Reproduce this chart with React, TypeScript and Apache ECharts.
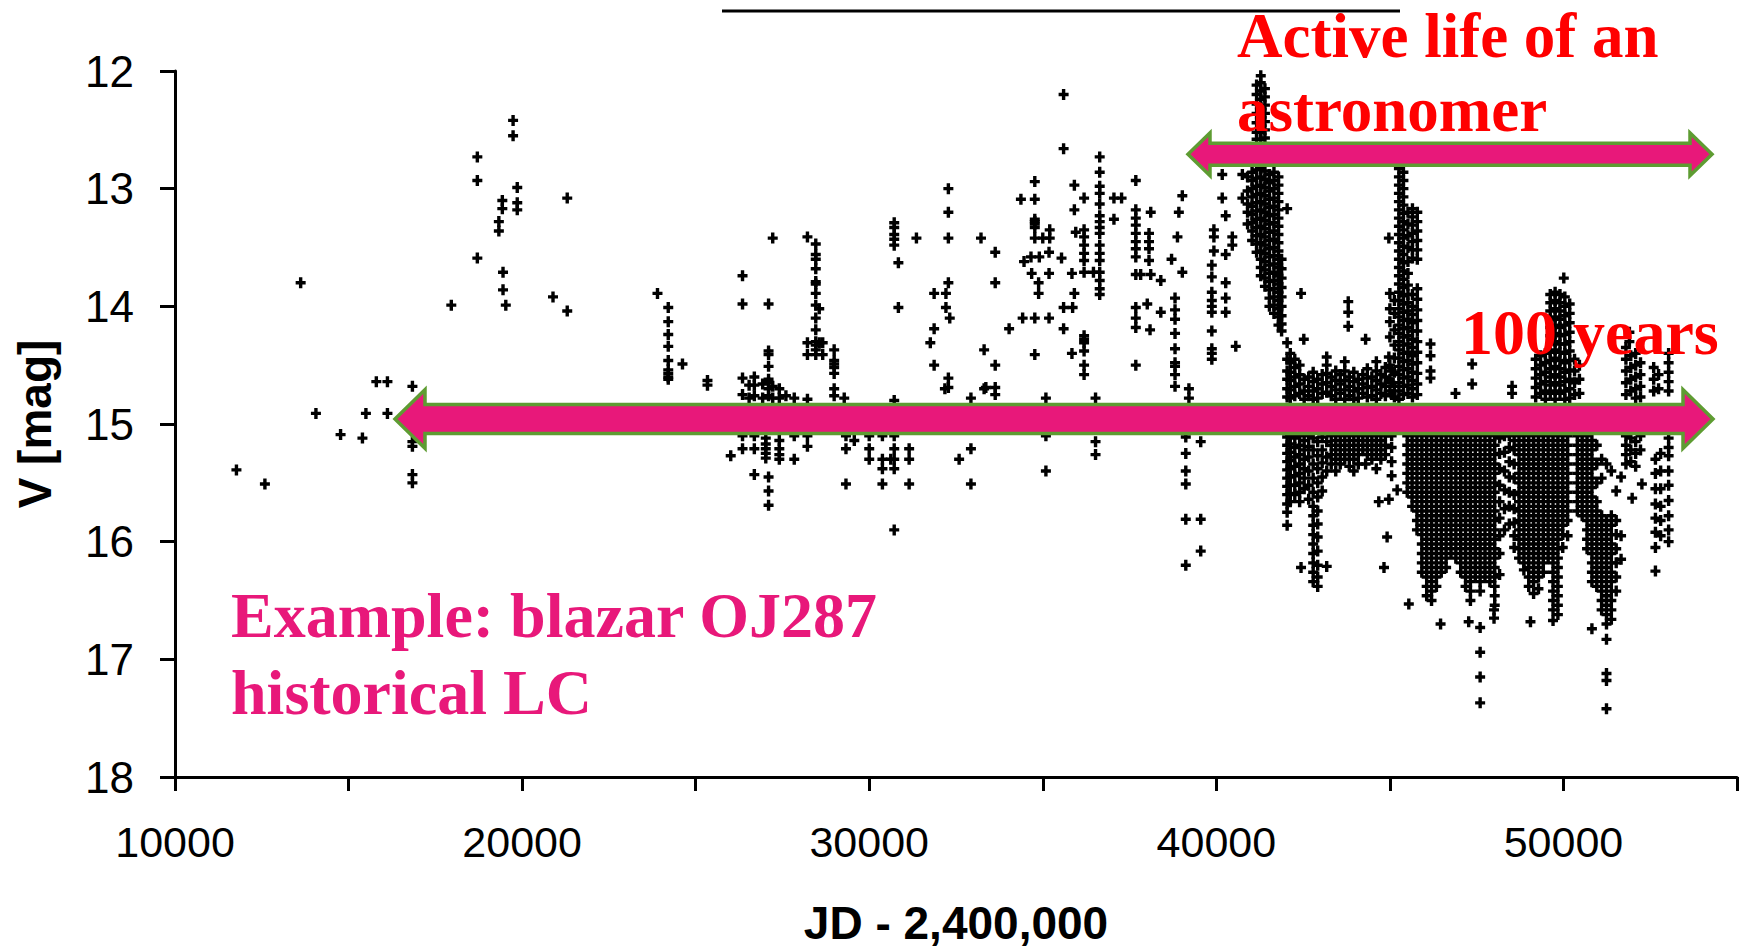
import React, { useEffect, useRef } from "react";
import * as echarts from "echarts";

const earlyRuns: number[][] = [
  [11770, 15.39], [12590, 15.51], [13620, 13.8], [14060, 14.91], [14770, 15.09],
  [15400, 15.12], [15500, 14.91], [15800, 14.64], [16120, 14.64, 14.91],
  [16840, 14.68, 15.15, 15.19, 15.43, 15.5], [17960, 13.99], [18710, 12.73, 12.93, 13.59],
  [19330, 13.28, 13.36], [19430, 13.1, 13.17], [19450, 13.71, 13.86], [19530, 13.99],
  [19740, 12.42, 12.55], [19860, 12.99, 13.12, 13.18], [20890, 13.92], [21300, 13.08, 14.04],
  [23900, 13.89], [24210, 14.01, 14.13, 14.24, 14.34, 14.46, 14.54, 14.57, 14.6, 14.62],
  [24620, 14.49], [25340, 14.63, 14.67], [26010, 15.27],
];

const midRuns: number[][] = [
  [26350, 13.74, 13.98, 14.61, 14.75, 15.1, 15.21], [26540, 14.67, 14.78],
  [26690, 14.6, 14.67, 14.76, 15.1, 15.21, 15.43], [26930, 14.66, 14.78],
  [27020, 15.12, 15.17, 15.21, 15.25, 15.29],
  [27100, 13.98, 14.38, 14.41, 14.51, 14.62, 14.65, 14.7, 14.76, 15.45, 15.57, 15.69],
  [27220, 13.42, 14.68, 14.78], [27410, 14.7, 14.78, 15.14, 15.21, 15.26, 15.3],
  [27600, 14.76], [27840, 14.78, 15.1, 15.3], [28220, 13.41, 14.31, 14.41, 14.79, 15.1, 15.19],
  [28460, 13.47, 13.56, 13.6, 13.68, 13.79, 13.81, 13.89, 13.99, 14.1, 14.2, 14.3, 14.33, 14.37, 14.41],
  [28560, 14.02, 14.31], [28660, 14.31, 14.41], [28990, 14.37, 14.46, 14.49, 14.52, 14.57, 14.7, 14.76],
  [29280, 14.78], [29330, 15.1, 15.21, 15.51], [29570, 15.14], [30000, 15.1, 15.21, 15.3],
  [30380, 15.1, 15.3, 15.38, 15.51], [30620, 15.3],
  [30720, 13.29, 13.33, 13.39, 13.43, 13.48, 14.8, 15.1, 15.21, 15.3, 15.38, 15.9],
  [30840, 13.63, 14.01], [31150, 15.21, 15.3, 15.51], [31360, 13.42], [31760, 14.31],
  [31870, 13.89, 14.19, 14.5], [32180, 14.7], [32210, 13.89, 14.01],
  [32280, 13.0, 13.2, 13.42, 13.8, 14.61, 14.69], [32320, 14.1], [32590, 15.3],
  [32930, 14.78, 15.21, 15.51], [33220, 13.42], [33310, 14.37, 14.7], [33360, 14.69],
  [33630, 13.54, 13.8, 14.5, 14.69, 14.75], [34030, 14.19], [34370, 13.09], [34420, 14.1],
  [34460, 13.62], [34660, 13.58], [34680, 13.72],
  [34770, 12.94, 13.09, 13.26, 13.28, 13.3, 13.33, 13.42, 14.1, 14.41], [34880, 13.8, 13.89],
  [34900, 13.58], [35000, 13.42], [35090, 14.78, 15.1, 15.4], [35180, 13.54, 13.72, 14.1],
  [35200, 13.35, 13.42], [35540, 13.59], [35600, 12.2, 12.66, 14.01, 14.19], [35840, 13.72, 14.4],
  [35860, 14.01], [35910, 12.97, 13.18, 13.89], [35950, 13.37],
];

const fiftiesRuns: number[][] = [
  [36190, 13.08, 13.35, 13.41, 13.48, 13.55, 13.61, 13.71, 14.25, 14.28, 14.31, 14.38, 14.5, 14.58],
  [36460, 13.71], [36520, 14.78, 15.15, 15.26],
  [36640, 12.73, 12.86, 12.98, 13.04, 13.13, 13.23, 13.28, 13.33, 13.38, 13.48, 13.55, 13.61, 13.71, 13.78, 13.85, 13.9],
  [37050, 13.08, 13.26], [37270, 13.08],
  [37680, 12.93, 13.18, 13.25, 13.31, 13.38, 13.45, 13.51, 13.58, 13.73, 14.01, 14.1, 14.18, 14.5],
  [37820, 13.73], [38010, 13.98], [38060, 13.38, 13.45, 13.51, 13.61], [38090, 14.2],
  [38110, 13.2, 13.73], [38400, 13.78, 14.05], [38710, 13.6],
  [38810, 13.93, 14.03, 14.11, 14.23, 14.36, 14.48, 14.51, 14.58, 14.68],
  [38880, 13.41], [38920, 13.2], [39020, 13.06, 13.71], [39120, 15.11, 15.25, 15.4, 15.51, 15.81, 16.2],
  [39210, 14.7, 14.78], [39550, 15.15, 15.81, 16.08],
  [39870, 13.65, 13.75, 13.88, 13.95, 14.0, 14.05, 14.21, 14.36, 14.4, 14.45],
  [39930, 13.35, 13.41, 13.53], [40170, 12.88, 13.08], [40270, 13.23, 13.56, 13.8, 13.93, 14.05],
  [40460, 13.41, 13.48], [40560, 14.34], [40750, 12.88, 13.08],
];

const outburstRuns: number[][] = [
  [40900, 12.9, 13.02, 13.13, 13.2, 13.3],
  [41030, 12.86, 12.93, 13.0, 13.07, 13.15, 13.22, 13.29, 13.36, 13.44],
  [41160, 12.12, 12.2, 12.28, 12.36, 12.44, 12.52, 12.58, 12.84, 12.91, 12.98, 13.05, 13.12, 13.19, 13.26, 13.33, 13.4, 13.47, 13.54],
  [41280, 12.04, 12.1, 12.17, 12.24, 12.31, 12.38, 12.45, 12.52, 12.58, 12.83, 12.9, 12.97, 13.04, 13.11, 13.18, 13.25, 13.32, 13.39, 13.46, 13.53, 13.6, 13.67, 13.74],
  [41400, 12.15, 12.22, 12.29, 12.36, 12.43, 12.5, 12.57, 12.85, 12.92, 12.99, 13.06, 13.13, 13.2, 13.27, 13.34, 13.41, 13.48, 13.55, 13.62, 13.69, 13.76, 13.83],
  [41530, 12.88, 12.95, 13.02, 13.09, 13.16, 13.23, 13.3, 13.37, 13.44, 13.51, 13.58, 13.65, 13.72, 13.79, 13.86, 13.93, 14.0],
  [41660, 12.86, 12.93, 13.0, 13.08, 13.15, 13.22, 13.29, 13.36, 13.43, 13.5, 13.57, 13.64, 13.71, 13.78, 13.85, 13.92, 13.99, 14.06],
  [41790, 12.9, 12.97, 13.04, 13.11, 13.18, 13.25, 13.32, 13.39, 13.46, 13.53, 13.6, 13.67, 13.74, 13.81, 13.88, 13.95, 14.02, 14.09, 14.16],
  [41880, 13.6, 13.68, 13.76, 13.84, 13.92, 14.0, 14.08, 14.15, 14.21],
  [42040, 13.17, 14.31, 14.45, 14.55, 14.62, 14.7, 14.77, 15.11, 15.18, 15.25, 15.32, 15.39, 15.46, 15.53, 15.6, 15.68, 15.75, 15.86],
  [42130, 14.4, 14.48, 14.56, 14.63, 14.71, 14.78, 15.1, 15.17, 15.24, 15.31, 15.38, 15.45, 15.52, 15.59, 15.66],
  [42260, 14.45, 14.52, 14.6, 14.68, 14.76, 15.12, 15.2, 15.28, 15.36, 15.44, 15.52, 15.6],
  [42400, 14.5, 14.58, 14.66, 14.74, 15.1, 15.18, 15.26, 15.34, 15.42, 15.5, 15.58, 15.66],
  [42440, 13.89, 16.22], [42520, 14.28],
  [42530, 14.62, 14.72, 14.79, 15.14, 15.22, 15.3, 15.38, 15.46, 15.55],
  [42660, 14.6, 14.68, 14.76, 15.1, 15.19, 15.28, 15.4, 15.52, 15.64],
  [42790, 14.56, 14.64, 14.72, 14.79, 15.12, 15.22, 15.34, 15.46, 15.58, 15.7, 15.78, 15.86, 15.94, 16.02, 16.1, 16.18, 16.26, 16.34],
  [42920, 14.62, 14.7, 14.78, 15.15, 15.27, 15.38, 15.5, 15.62, 15.74, 15.85, 15.96, 16.08, 16.2, 16.3, 16.38],
  [43050, 14.58, 14.66, 14.74, 15.11, 15.22, 15.33, 15.45, 15.57],
  [43180, 14.43, 14.5, 14.57, 14.65, 14.73, 15.15, 15.28, 15.4, 16.21],
  [43310, 14.6, 14.68, 14.76, 15.1, 15.18, 15.26, 15.34],
  [43440, 14.55, 14.63, 14.71, 14.79, 15.14, 15.22, 15.3, 15.4],
  [43570, 14.58, 14.66, 14.74, 15.1, 15.18, 15.26, 15.34],
  [43700, 14.47, 14.55, 14.63, 14.71, 14.79, 15.14, 15.22, 15.3],
  [43800, 13.96, 14.05, 14.17],
  [43830, 14.6, 14.68, 14.76, 15.1, 15.18, 15.26, 15.36],
  [43960, 14.56, 14.64, 14.72, 14.79, 15.14, 15.22, 15.3, 15.4],
  [44090, 14.62, 14.7, 14.78, 15.1, 15.18, 15.26, 15.34],
  [44220, 14.58, 14.66, 14.74, 15.14, 15.22],
  [44300, 14.28, 15.34],
  [44350, 14.53, 14.61, 14.69, 14.77, 15.1, 15.18, 15.26],
  [44480, 14.6, 14.68, 14.76, 15.14, 15.22, 15.3],
  [44610, 14.47, 14.55, 14.63, 14.71, 14.79, 15.1, 15.18, 15.26, 15.38],
  [44680, 15.66],
  [44740, 14.58, 14.66, 14.74, 15.14, 15.22, 15.3],
  [44830, 16.22],
  [44870, 14.52, 14.6, 14.68, 14.76, 15.1, 15.18, 15.26],
  [44920, 15.96], [44970, 13.42, 14.43, 15.64],
];

const modernRuns: number[][] = [
  [45000, 13.89, 14.02, 14.13, 14.26, 14.5, 14.62, 14.72],
  [45050, 14.55, 14.65, 14.75, 15.1, 15.2, 15.32, 15.44],
  [45130, 13.95, 14.06, 14.2, 14.33, 14.44, 14.56, 14.68, 14.77], [45210, 15.56],
  [45260, 12.83, 12.9, 12.97, 13.04, 13.11, 13.18, 13.25, 13.32, 13.39, 13.46, 13.53, 13.6, 13.67, 13.74, 13.81, 13.88, 13.95, 14.02, 14.09, 14.16, 14.23, 14.3, 14.37, 14.44, 14.51, 14.58, 14.65, 14.72, 14.79],
  [45390, 12.86, 12.93, 13.0, 13.07, 13.14, 13.21, 13.28, 13.35, 13.42, 13.49, 13.56, 13.63, 13.7, 13.77, 13.84, 13.91, 13.98, 14.05, 14.12, 14.19, 14.26, 14.33, 14.4, 14.47, 14.54, 14.61, 14.68, 14.75],
  [45520, 13.2, 13.3, 13.4, 13.5, 13.62, 13.72, 13.82, 13.9, 13.97, 14.04, 14.11, 14.18, 14.25, 14.32, 14.39, 14.46, 14.53, 14.6, 14.67, 14.74],
  [45650, 13.17, 13.24, 13.31, 13.38, 13.45, 13.52, 13.59, 13.9, 14.0, 14.07, 14.14, 14.21, 14.28, 14.35, 14.42, 14.49, 14.56, 14.63, 14.7, 14.77],
  [45790, 13.2, 13.28, 13.36, 13.44, 13.52, 13.6, 13.85, 13.94, 14.03, 14.12, 14.21, 14.3, 14.39, 14.48, 14.57, 14.66, 14.75],
  [46170, 14.32, 14.42, 14.55, 14.61], [46890, 14.74], [47370, 14.49, 14.66], [48520, 14.68, 14.74],
  [45500, 15.1, 15.18, 15.26, 15.34, 15.42, 15.5, 15.58], [45545, 16.53],
  [45640, 15.14, 15.22, 15.3, 15.38, 15.46, 15.54, 15.62, 15.7],
  [45780, 15.1, 15.18, 15.26, 15.34, 15.42, 15.5, 15.58, 15.66, 15.74, 15.82, 15.9],
  [45920, 15.14, 15.22, 15.3, 15.38, 15.46, 15.54, 15.62, 15.7, 15.78, 15.86, 15.94, 16.02, 16.1, 16.18, 16.26],
  [46060, 15.1, 15.18, 15.26, 15.34, 15.42, 15.5, 15.58, 15.66, 15.74, 15.82, 15.9, 15.98, 16.06, 16.14, 16.22, 16.3, 16.38, 16.46],
  [46200, 15.14, 15.22, 15.3, 15.38, 15.46, 15.54, 15.62, 15.7, 15.78, 15.86, 15.94, 16.02, 16.1, 16.18, 16.26, 16.34, 16.42, 16.5],
  [46340, 15.1, 15.18, 15.26, 15.34, 15.42, 15.5, 15.58, 15.66, 15.74, 15.82, 15.9, 15.98, 16.06, 16.14, 16.22, 16.3, 16.38],
  [46460, 16.7],
  [46480, 15.14, 15.22, 15.3, 15.38, 15.46, 15.54, 15.62, 15.7, 15.78, 15.86, 15.94, 16.02, 16.1, 16.18, 16.26],
  [46620, 15.1, 15.18, 15.26, 15.34, 15.42, 15.5, 15.58, 15.66, 15.74, 15.82, 15.9, 15.98, 16.06, 16.14, 16.22],
  [46760, 15.14, 15.22, 15.3, 15.38, 15.46, 15.54, 15.62, 15.7, 15.78, 15.86, 15.94, 16.02, 16.1],
  [46900, 15.1, 15.18, 15.26, 15.34, 15.42, 15.5, 15.58, 15.66, 15.74, 15.82, 15.9, 15.98, 16.06, 16.14],
  [47040, 15.14, 15.22, 15.3, 15.38, 15.46, 15.54, 15.62, 15.7, 15.78, 15.86, 15.94, 16.02, 16.1, 16.18, 16.26],
  [47180, 15.1, 15.18, 15.26, 15.34, 15.42, 15.5, 15.58, 15.66, 15.74, 15.82, 15.9, 15.98, 16.06, 16.14, 16.22, 16.3, 16.38],
  [47270, 16.68],
  [47320, 15.14, 15.22, 15.3, 15.38, 15.46, 15.54, 15.62, 15.7, 15.78, 15.86, 15.94, 16.02, 16.1, 16.18, 16.26, 16.34, 16.42, 16.5],
  [47460, 15.1, 15.18, 15.26, 15.34, 15.42, 15.5, 15.58, 15.66, 15.74, 15.82, 15.9, 15.98, 16.06, 16.14, 16.22, 16.3],
  [47600, 15.14, 15.22, 15.3, 15.38, 15.46, 15.54, 15.62, 15.7, 15.78, 15.86, 15.94, 16.02, 16.1, 16.18, 16.26, 16.34, 16.42, 16.73, 16.94, 17.15, 17.37],
  [47740, 15.1, 15.18, 15.26, 15.34, 15.42, 15.5, 15.58, 15.66, 15.74, 15.82, 15.9, 15.98, 16.06, 16.14, 16.22, 16.3],
  [47880, 15.14, 15.22, 15.3, 15.38, 15.46, 15.54, 15.62, 15.7, 15.78, 15.86, 15.94, 16.02, 16.1, 16.18, 16.26, 16.34],
  [48000, 16.58, 16.65],
  [48020, 15.1, 15.18, 15.26, 15.34, 15.42, 15.5, 15.58, 15.66, 15.74, 15.82, 15.9, 15.98, 16.06, 16.14, 16.22, 16.3, 16.38, 16.46, 16.54],
  [48160, 15.12, 15.25, 15.38, 15.52, 15.66, 15.8, 15.95, 16.1, 16.28],
  [48300, 15.1, 15.24, 15.4, 15.56, 15.72, 15.9],
  [48440, 15.1, 15.2, 15.32, 15.45, 15.58, 15.7, 15.85],
  [48580, 15.14, 15.22, 15.34, 15.46, 15.6, 15.72, 15.84, 15.95, 16.05],
  [48720, 15.1, 15.18, 15.26, 15.34, 15.42, 15.5, 15.58, 15.66, 15.74, 15.82, 15.9, 15.98, 16.06, 16.14],
  [48860, 15.14, 15.22, 15.3, 15.38, 15.46, 15.54, 15.62, 15.7, 15.78, 15.86, 15.94, 16.02, 16.1, 16.18, 16.24],
  [49000, 15.1, 15.18, 15.26, 15.34, 15.42, 15.5, 15.58, 15.66, 15.74, 15.82, 15.9, 15.98, 16.06, 16.14, 16.22, 16.3, 16.38],
  [49050, 16.68],
  [49140, 15.14, 15.22, 15.3, 15.38, 15.46, 15.54, 15.62, 15.7, 15.78, 15.86, 15.94, 16.02, 16.1, 16.18, 16.26, 16.34, 16.44],
  [49280, 15.1, 15.18, 15.26, 15.34, 15.42, 15.5, 15.58, 15.66, 15.74, 15.82, 15.9, 15.98, 16.06, 16.14, 16.22, 16.3, 16.4],
  [49420, 15.14, 15.22, 15.3, 15.38, 15.46, 15.54, 15.62, 15.7, 15.78, 15.86, 15.94, 16.02, 16.1, 16.18, 16.26],
  [49560, 15.1, 15.18, 15.26, 15.34, 15.42, 15.5, 15.58, 15.66, 15.74, 15.82, 15.9, 15.98, 16.06, 16.14],
  [49700, 15.14, 15.22, 15.3, 15.38, 15.46, 15.54, 15.62, 15.7, 15.78, 15.86, 15.94, 16.02, 16.1, 16.18, 16.26, 16.34, 16.42, 16.5, 16.58, 16.67],
  [49840, 15.1, 15.18, 15.26, 15.34, 15.42, 15.5, 15.58, 15.66, 15.74, 15.82, 15.9, 15.98, 16.06, 16.14, 16.22, 16.3, 16.38, 16.46, 16.54, 16.62],
  [49980, 15.14, 15.22, 15.3, 15.38, 15.46, 15.54, 15.62, 15.7, 15.78, 15.86, 15.94, 16.05],
  [50120, 15.1, 15.18, 15.26, 15.34, 15.42, 15.5, 15.58, 15.66, 15.74, 15.82, 15.95],
  [49200, 14.45, 14.53, 14.61, 14.69, 14.77], [49340, 14.42, 14.5, 14.58, 14.66, 14.74],
  [49480, 14.4, 14.48, 14.56, 14.64, 14.72, 14.79],
  [49620, 13.9, 13.97, 14.04, 14.11, 14.18, 14.25, 14.32, 14.39, 14.46, 14.53, 14.6, 14.67, 14.74],
  [49760, 13.88, 13.95, 14.02, 14.09, 14.16, 14.23, 14.3, 14.37, 14.44, 14.51, 14.58, 14.65, 14.72, 14.79],
  [49900, 13.9, 13.97, 14.04, 14.11, 14.18, 14.25, 14.32, 14.39, 14.46, 14.53, 14.6, 14.67, 14.74],
  [50010, 13.76],
  [50040, 13.92, 14.0, 14.08, 14.16, 14.24, 14.32, 14.4, 14.48, 14.56, 14.64, 14.72, 14.79],
  [50180, 13.98, 14.06, 14.14, 14.22, 14.3, 14.38, 14.46, 14.54, 14.62, 14.7, 14.78],
  [50320, 14.45, 14.55, 14.65, 14.75], [50460, 14.5, 14.62, 14.74],
  [50400, 15.1, 15.18, 15.26, 15.34, 15.42, 15.5, 15.58, 15.66, 15.74],
  [50540, 15.14, 15.22, 15.3, 15.38, 15.46, 15.54, 15.62, 15.7, 15.78],
  [50680, 15.1, 15.18, 15.26, 15.34, 15.42, 15.5, 15.58, 15.66, 15.74, 15.82, 15.9, 15.98, 16.06],
  [50820, 15.14, 15.22, 15.3, 15.38, 15.46, 15.54, 15.62, 15.7, 15.78, 15.86, 15.94, 16.02, 16.1, 16.18, 16.26, 16.34, 16.74],
  [50960, 15.18, 15.34, 15.5, 15.66, 15.74, 15.82, 15.9, 15.98, 16.06, 16.14, 16.22, 16.3, 16.38],
  [51100, 15.3, 15.46, 15.78, 15.86, 15.94, 16.02, 16.1, 16.18, 16.26, 16.34, 16.42, 16.5, 16.58],
  [51240, 15.34, 15.82, 15.9, 15.98, 16.06, 16.14, 16.22, 16.3, 16.38, 16.46, 16.54, 16.62, 16.7, 16.83, 17.12, 17.18, 17.42],
  [51380, 15.4, 15.78, 15.86, 15.94, 16.02, 16.1, 16.18, 16.26, 16.34, 16.42, 16.5, 16.58, 16.66],
  [51520, 15.57, 15.82, 15.94, 16.06, 16.18, 16.3, 16.42], [51660, 15.45, 15.95, 16.15],
  [51800, 14.35, 14.45, 14.55, 14.65, 14.75, 15.1, 15.18, 15.26, 15.34], [51900, 14.22, 14.3],
  [51940, 14.42, 14.52, 14.62, 14.72, 15.12, 15.22, 15.32], [51980, 15.63],
  [52080, 14.4, 14.5, 14.6, 14.7, 14.78, 15.15, 15.25, 15.36], [52220, 14.48, 14.58, 14.68, 14.77, 15.1, 15.22],
  [52260, 15.51], [52600, 14.52, 14.62, 14.72], [52650, 15.3, 15.42, 15.55, 15.68, 15.8, 15.92, 16.05, 16.25],
  [52740, 14.58, 14.7], [52800, 15.25, 15.4, 15.55, 15.7, 15.82, 15.95],
  [53030, 14.4, 14.48, 14.56, 14.64, 14.72, 15.12, 15.2, 15.27, 15.4, 15.52, 15.65, 15.78, 15.9, 16.0],
];

const xTickLabels = [10000, 20000, 30000, 40000, 50000];

const PINK = "#E8187A";
const GREEN = "#5E9C32";

function toPoints(runs: number[][]): number[][] {
  const pts: number[][] = [];
  for (const r of runs) for (let i = 1; i < r.length; i++) pts.push([r[0], r[i]]);
  return pts;
}

function arrowPoints(xl: number, xr: number, cy: number, sh: number, hh: number, hl: number) {
  return [
    [xl, cy], [xl + hl, cy - hh], [xl + hl, cy - sh], [xr - hl, cy - sh], [xr - hl, cy - hh],
    [xr, cy], [xr - hl, cy + hh], [xr - hl, cy + sh], [xl + hl, cy + sh], [xl + hl, cy + hh],
  ];
}

export default function App() {
  const ref = useRef<HTMLDivElement>(null);
  useEffect(() => {
    if (!ref.current) return;
    const chart = echarts.init(ref.current, null, { renderer: "svg" });
    const data = [
      ...toPoints(earlyRuns), ...toPoints(midRuns), ...toPoints(fiftiesRuns),
      ...toPoints(outburstRuns), ...toPoints(modernRuns),
    ];
    const sans = '"Liberation Sans", Arial, sans-serif';
    const serif = '"Liberation Serif", "Times New Roman", serif';
    const redText = { fill: "#FF0000", fontSize: 63, fontWeight: "bold", fontFamily: serif, align: "left", verticalAlign: "middle", lineHeight: 60 };
    chart.setOption({
      animation: false,
      backgroundColor: "#ffffff",
      grid: { left: 175, right: 10, top: 71, bottom: 169, containLabel: false },
      xAxis: {
        type: "value", min: 10000, max: 55000, interval: 5000,
        axisLine: { show: true, onZero: false, lineStyle: { color: "#000", width: 3 } },
        axisTick: { show: true, length: 14, lineStyle: { color: "#000", width: 3 } },
        splitLine: { show: false },
        axisLabel: {
          formatter: (v: number) => (xTickLabels.includes(v) ? String(v) : ""),
          fontSize: 43, color: "#000", fontFamily: sans, margin: 43,
          showMinLabel: true, showMaxLabel: true,
        },
        name: "JD - 2,400,000", nameLocation: "middle", nameGap: 123,
        nameTextStyle: { fontSize: 46, fontWeight: "bold", color: "#000", fontFamily: sans },
      },
      yAxis: {
        type: "value", inverse: true, min: 12, max: 18, interval: 1,
        axisLine: { show: true, onZero: false, lineStyle: { color: "#000", width: 3 } },
        axisTick: { show: true, length: 15, lineStyle: { color: "#000", width: 3 } },
        splitLine: { show: false },
        axisLabel: { fontSize: 44, color: "#000", fontFamily: sans, margin: 41 },
        name: "V [mag]", nameLocation: "middle", nameRotate: 90, nameGap: 117,
        nameTextStyle: { fontSize: 46, fontWeight: "bold", color: "#000", fontFamily: sans },
      },
      series: [
        {
          type: "scatter",
          name: "OJ287 V",
          symbol: "path://M3.3,0H6.7V3.8H10V7.2H6.7V11H3.3V7.2H0V3.8H3.3Z",
          symbolSize: [10, 11],
          itemStyle: { color: "#000", opacity: 1 },
          data,
          silent: true,
          z: 2,
        },
      ],
      graphic: [
        { type: "line", z: 100, shape: { x1: 722, y1: 11, x2: 1400, y2: 11 }, style: { stroke: "#000", lineWidth: 3 } },
        { type: "text", z: 100, x: 1237, y: 35.5, style: { ...redText, text: "Active life of an" } },
        { type: "text", z: 100, x: 1237, y: 109.5, style: { ...redText, text: "astronomer" } },
        { type: "text", z: 100, x: 1461, y: 332, style: { ...redText, fontSize: 64, text: "100 years" } },
        { type: "text", z: 100, x: 231, y: 577, style: { text: "Example: blazar OJ287\nhistorical LC", fill: PINK, fontSize: 64, fontWeight: "bold", fontFamily: serif, lineHeight: 77, align: "left", verticalAlign: "top" } },
        { type: "polygon", z: 101, shape: { points: arrowPoints(1188, 1712, 154.3, 11, 21.3, 22) }, style: { fill: PINK, stroke: GREEN, lineWidth: 3.5 } },
        { type: "polygon", z: 101, shape: { points: arrowPoints(395, 1713, 419, 14.5, 29.3, 30) }, style: { fill: PINK, stroke: GREEN, lineWidth: 3.5 } },
      ],
    });
    return () => chart.dispose();
  }, []);
  return (
    <div
      ref={ref}
      style={{ position: "fixed", left: 0, top: 0, width: 1747, height: 951, background: "#fff" }}
    />
  );
}
